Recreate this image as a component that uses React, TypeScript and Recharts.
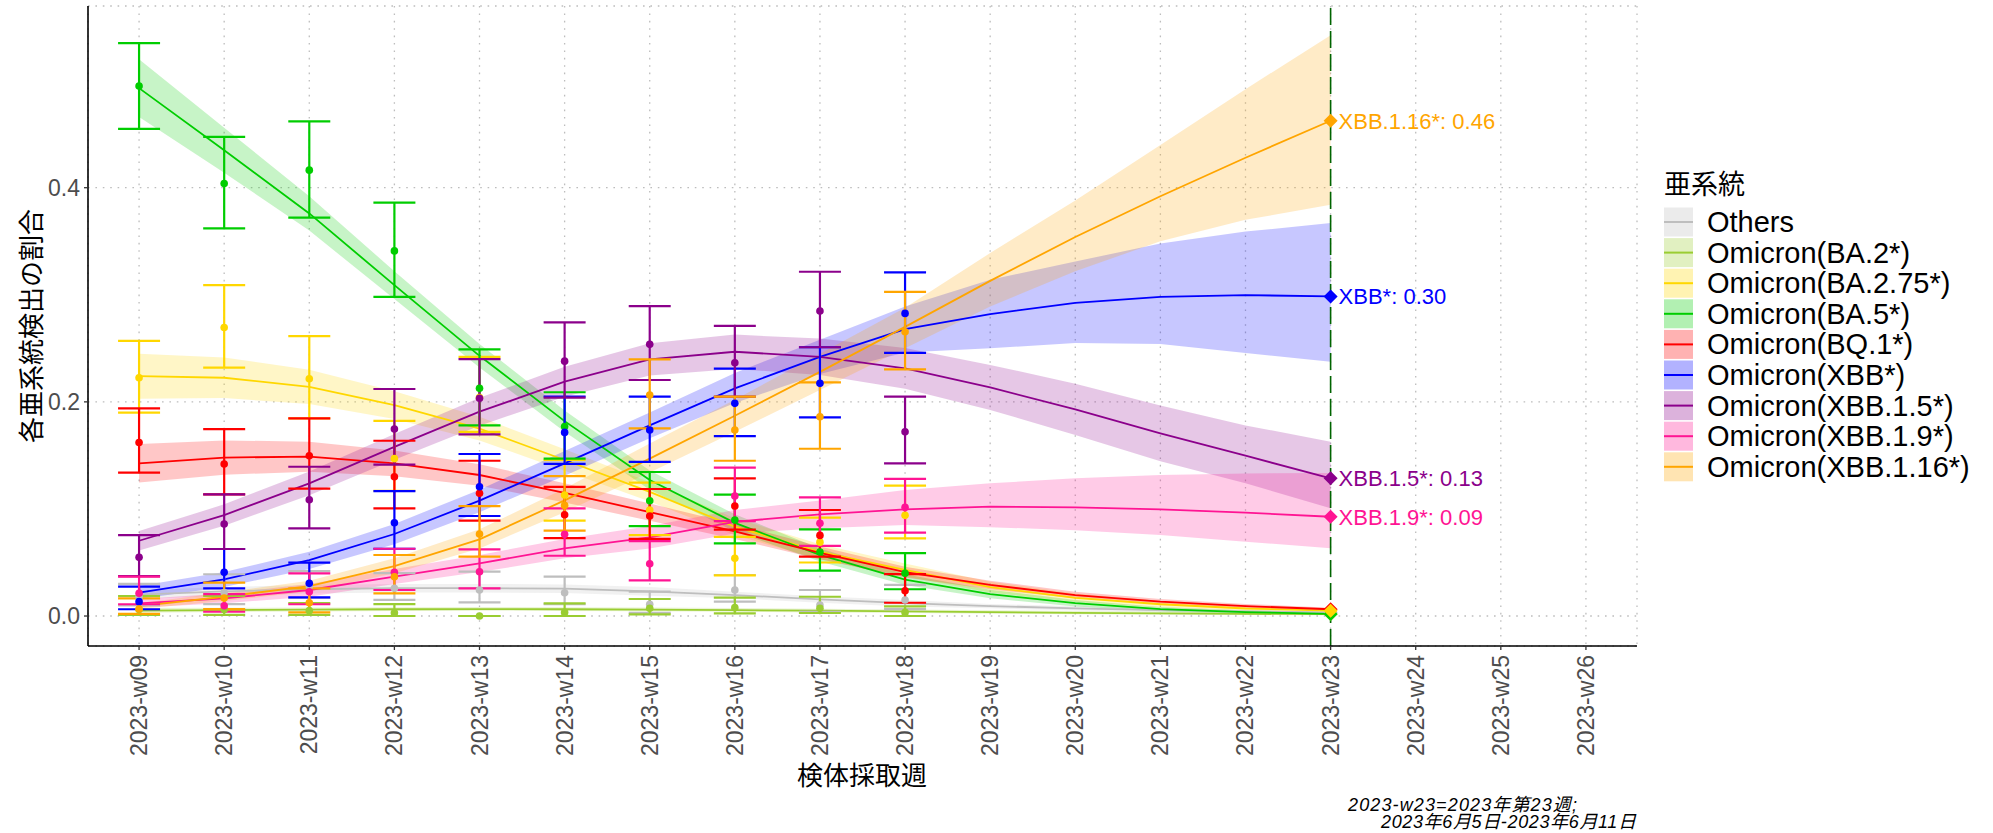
import React from 'react';
import {
  ComposedChart,
  Line,
  Area,
  XAxis,
  YAxis,
  CartesianGrid,
  ErrorBar,
  ReferenceLine,
  ReferenceDot,
} from 'recharts';

// ---------- categories ----------
const fitWeeks = [9, 10, 11, 12, 13, 14, 15, 16, 17, 18, 19, 20, 21, 22, 23];
const obsWeeks = [9, 10, 11, 12, 13, 14, 15, 16, 17, 18];
const xTicks = [9, 10, 11, 12, 13, 14, 15, 16, 17, 18, 19, 20, 21, 22, 23, 24, 25, 26];
const yTicks = [0, 0.2, 0.4];
const latestWeek = 23;

// ---------- series meta ----------
const seriesKeys = ['oth', 'ba2', 'ba275', 'ba5', 'bq1', 'xbb', 'xbb15', 'xbb19', 'xbb116'];
const seriesNames = [
  'Others',
  'Omicron(BA.2*)',
  'Omicron(BA.2.75*)',
  'Omicron(BA.5*)',
  'Omicron(BQ.1*)',
  'Omicron(XBB*)',
  'Omicron(XBB.1.5*)',
  'Omicron(XBB.1.9*)',
  'Omicron(XBB.1.16*)',
];
const seriesColors = ['#BEBEBE', '#9ACD32', '#FFD700', '#00CD00', '#FF0000', '#0000FF', '#8B008B', '#FF1493', '#FFA500'];
const endLabels = ['', '', '', '', '', 'XBB*', 'XBB.1.5*', 'XBB.1.9*', 'XBB.1.16*'];

// ---------- observed proportions (w09..w18) ----------
const othObs = [0.018, 0.022, 0.028, 0.026, 0.0243, 0.0218, 0.011, 0.0243, 0.0103, 0.015];
const othLo = [0.01, 0.0112, 0.017, 0.015, 0.0128, 0.011, 0.003, 0.0134, 0.004, 0.0065];
const othHi = [0.03, 0.039, 0.042, 0.04, 0.0414, 0.0367, 0.0227, 0.0383, 0.0243, 0.029];

const ba2Obs = [0.006, 0.006, 0.005, 0.003, 0.0, 0.0034, 0.0072, 0.0078, 0.0072, 0.0034];
const ba2Lo = [0.001, 0.001, 0.001, 0.0, 0.0, 0.0, 0.0016, 0.0025, 0.0028, 0.0];
const ba2Hi = [0.0187, 0.0187, 0.012, 0.0112, 0.0, 0.0118, 0.0159, 0.0171, 0.018, 0.009];

const ba275Obs = [0.2225, 0.2695, 0.2216, 0.147, 0.204, 0.113, 0.099, 0.0539, 0.069, 0.094];
const ba275Lo = [0.19, 0.232, 0.1846, 0.117, 0.172, 0.089, 0.0756, 0.038, 0.05, 0.0725];
const ba275Hi = [0.257, 0.309, 0.2614, 0.1823, 0.242, 0.1457, 0.1245, 0.074, 0.0918, 0.1217];

const ba5Obs = [0.495, 0.404, 0.4164, 0.341, 0.2126, 0.177, 0.1077, 0.0896, 0.0598, 0.04];
const ba5Lo = [0.455, 0.362, 0.372, 0.298, 0.178, 0.147, 0.084, 0.0679, 0.0423, 0.025];
const ba5Hi = [0.535, 0.4475, 0.462, 0.386, 0.249, 0.209, 0.1345, 0.1133, 0.081, 0.0588];

const bq1Obs = [0.162, 0.142, 0.1497, 0.13, 0.1146, 0.0946, 0.0934, 0.1027, 0.0753, 0.0236];
const bq1Lo = [0.134, 0.1136, 0.119, 0.1005, 0.089, 0.0728, 0.072, 0.0806, 0.0554, 0.0124];
const bq1Hi = [0.194, 0.1746, 0.1846, 0.1637, 0.145, 0.1207, 0.1186, 0.1286, 0.099, 0.0392];

const xbbObs = [0.0134, 0.0408, 0.0305, 0.0871, 0.1207, 0.1715, 0.1737, 0.1986, 0.2173, 0.2826];
const xbbLo = [0.0063, 0.0259, 0.0174, 0.0628, 0.0934, 0.142, 0.144, 0.168, 0.1855, 0.2458];
const xbbHi = [0.0274, 0.0626, 0.0498, 0.1167, 0.1513, 0.205, 0.2048, 0.231, 0.251, 0.321];

const xbb15Obs = [0.0548, 0.0859, 0.1086, 0.1746, 0.2033, 0.238, 0.2537, 0.2365, 0.2848, 0.172];
const xbb15Lo = [0.0373, 0.0626, 0.0819, 0.1413, 0.1697, 0.204, 0.2204, 0.2048, 0.251, 0.1426];
const xbb15Hi = [0.0756, 0.1136, 0.1394, 0.212, 0.24, 0.2742, 0.2894, 0.271, 0.3215, 0.2048];

const xbb19Obs = [0.0212, 0.0096, 0.0227, 0.0408, 0.0414, 0.0763, 0.0488, 0.112, 0.0866, 0.1015];
const xbb19Lo = [0.011, 0.004, 0.011, 0.0243, 0.0259, 0.0563, 0.0333, 0.0887, 0.0656, 0.0778];
const xbb19Hi = [0.0367, 0.0205, 0.0399, 0.0628, 0.0623, 0.1006, 0.07, 0.1385, 0.1108, 0.128];

const xbb116Obs = [0.0065, 0.0168, 0.0124, 0.0367, 0.0766, 0.1033, 0.2063, 0.1737, 0.1861, 0.2655];
const xbb116Lo = [0.002, 0.0065, 0.0034, 0.0212, 0.0554, 0.0797, 0.1752, 0.145, 0.1562, 0.2303];
const xbb116Hi = [0.0165, 0.0311, 0.0259, 0.057, 0.1027, 0.1307, 0.2397, 0.2048, 0.2182, 0.3028];

// ---------- fitted proportions with 95% band (w09..w23) ----------
const othFit = [0.02, 0.023, 0.025, 0.026, 0.026, 0.0255, 0.023, 0.0196, 0.0155, 0.012, 0.0093, 0.0072, 0.0055, 0.0043, 0.0033];
const othFitLo = [0.016, 0.019, 0.021, 0.022, 0.022, 0.0215, 0.019, 0.0166, 0.0125, 0.009, 0.0073, 0.0052, 0.0035, 0.0028, 0.0021];
const othFitHi = [0.024, 0.027, 0.029, 0.03, 0.03, 0.0295, 0.027, 0.0226, 0.0185, 0.015, 0.0113, 0.0092, 0.0075, 0.0058, 0.0045];

const ba2Fit = [0.005, 0.0055, 0.006, 0.0063, 0.0065, 0.0063, 0.006, 0.0055, 0.005, 0.0043, 0.0036, 0.003, 0.0025, 0.002, 0.0017];
const ba2FitLo = [0.003, 0.0037, 0.0043, 0.0047, 0.0049, 0.0047, 0.0044, 0.0039, 0.0034, 0.0028, 0.0022, 0.0017, 0.0013, 0.001, 0.0008];
const ba2FitHi = [0.0075, 0.0077, 0.008, 0.0082, 0.0084, 0.0082, 0.0079, 0.0074, 0.0069, 0.0062, 0.0054, 0.0047, 0.0041, 0.0035, 0.003];

const ba275Fit = [0.224, 0.2225, 0.214, 0.197, 0.175, 0.1457, 0.116, 0.0834, 0.06, 0.043, 0.027, 0.017, 0.011, 0.007, 0.005];
const ba275FitLo = [0.203, 0.2035, 0.198, 0.184, 0.164, 0.1357, 0.107, 0.0754, 0.053, 0.037, 0.022, 0.013, 0.008, 0.005, 0.003];
const ba275FitHi = [0.245, 0.2415, 0.23, 0.21, 0.186, 0.1557, 0.125, 0.0914, 0.067, 0.049, 0.032, 0.021, 0.014, 0.009, 0.007];

const ba5Fit = [0.493, 0.435, 0.376, 0.309, 0.243, 0.182, 0.127, 0.087, 0.057, 0.034, 0.0205, 0.012, 0.0065, 0.0037, 0.002];
const ba5FitLo = [0.466, 0.414, 0.36, 0.296, 0.232, 0.172, 0.118, 0.079, 0.051, 0.029, 0.0165, 0.009, 0.0045, 0.0022, 0.001];
const ba5FitHi = [0.52, 0.456, 0.392, 0.322, 0.254, 0.192, 0.136, 0.095, 0.063, 0.039, 0.0245, 0.015, 0.0085, 0.0052, 0.003];

const bq1Fit = [0.1426, 0.148, 0.1488, 0.1426, 0.1317, 0.115, 0.097, 0.079, 0.059, 0.041, 0.029, 0.0196, 0.0134, 0.0093, 0.0063];
const bq1FitLo = [0.1246, 0.132, 0.1348, 0.1306, 0.1217, 0.106, 0.089, 0.072, 0.053, 0.036, 0.025, 0.0166, 0.0109, 0.0073, 0.0048];
const bq1FitHi = [0.1606, 0.164, 0.1628, 0.1546, 0.1417, 0.124, 0.105, 0.086, 0.065, 0.046, 0.033, 0.0226, 0.0159, 0.0113, 0.0078];

const xbbFit = [0.0218, 0.0342, 0.0523, 0.0766, 0.1077, 0.1426, 0.178, 0.2126, 0.242, 0.268, 0.282, 0.2925, 0.298, 0.2997, 0.2985];
const xbbFitLo = [0.016, 0.027, 0.044, 0.067, 0.097, 0.131, 0.166, 0.199, 0.226, 0.246, 0.25, 0.255, 0.254, 0.2456, 0.2375];
const xbbFitHi = [0.028, 0.041, 0.06, 0.086, 0.118, 0.154, 0.19, 0.227, 0.258, 0.289, 0.314, 0.331, 0.348, 0.359, 0.367];

const xbb15Fit = [0.0703, 0.0943, 0.1239, 0.158, 0.1908, 0.2188, 0.2397, 0.2468, 0.2421, 0.2313, 0.2135, 0.193, 0.1706, 0.1497, 0.1286];
const xbb15FitLo = [0.0613, 0.0843, 0.1129, 0.146, 0.1778, 0.2048, 0.2247, 0.2308, 0.2251, 0.2123, 0.1925, 0.169, 0.1446, 0.124, 0.1006];
const xbb15FitHi = [0.0793, 0.1043, 0.1349, 0.17, 0.2038, 0.2328, 0.2547, 0.2628, 0.2591, 0.2503, 0.2345, 0.217, 0.1966, 0.178, 0.1628];

const xbb19Fit = [0.0118, 0.0165, 0.0243, 0.0367, 0.0492, 0.0632, 0.0735, 0.088, 0.095, 0.0996, 0.1021, 0.1015, 0.0996, 0.0965, 0.0927];
const xbb19FitLo = [0.008, 0.012, 0.018, 0.03, 0.041, 0.054, 0.063, 0.077, 0.082, 0.085, 0.083, 0.08, 0.0756, 0.0694, 0.0632];
const xbb19FitHi = [0.016, 0.021, 0.03, 0.044, 0.057, 0.072, 0.084, 0.099, 0.108, 0.1176, 0.124, 0.1286, 0.1317, 0.1332, 0.1335];

const xbb116Fit = [0.0093, 0.018, 0.028, 0.0467, 0.0716, 0.108, 0.147, 0.187, 0.228, 0.27, 0.313, 0.354, 0.392, 0.428, 0.4625];
const xbb116FitLo = [0.0065, 0.014, 0.023, 0.04, 0.063, 0.097, 0.134, 0.172, 0.211, 0.25, 0.289, 0.322, 0.35, 0.37, 0.384];
const xbb116FitHi = [0.012, 0.022, 0.033, 0.054, 0.081, 0.119, 0.161, 0.202, 0.245, 0.288, 0.339, 0.388, 0.44, 0.492, 0.5425];

// ---------- text ----------
const yTitle = '各亜系統検出の割合';
const xTitle = '検体採取週';
const legendTitle = '亜系統';
const captionLines = ['2023-w23=2023年第23週;', '2023年6月5日-2023年6月11日'];

type S = {
  key: string; name: string; color: string; tag: string;
  obs: number[]; lo: number[]; hi: number[];
  fit: number[]; fitLo: number[]; fitHi: number[];
};

const obsTable = [
  [othObs, othLo, othHi], [ba2Obs, ba2Lo, ba2Hi], [ba275Obs, ba275Lo, ba275Hi], [ba5Obs, ba5Lo, ba5Hi],
  [bq1Obs, bq1Lo, bq1Hi], [xbbObs, xbbLo, xbbHi], [xbb15Obs, xbb15Lo, xbb15Hi], [xbb19Obs, xbb19Lo, xbb19Hi],
  [xbb116Obs, xbb116Lo, xbb116Hi],
];
const fitTable = [
  [othFit, othFitLo, othFitHi], [ba2Fit, ba2FitLo, ba2FitHi], [ba275Fit, ba275FitLo, ba275FitHi], [ba5Fit, ba5FitLo, ba5FitHi],
  [bq1Fit, bq1FitLo, bq1FitHi], [xbbFit, xbbFitLo, xbbFitHi], [xbb15Fit, xbb15FitLo, xbb15FitHi], [xbb19Fit, xbb19FitLo, xbb19FitHi],
  [xbb116Fit, xbb116FitLo, xbb116FitHi],
];

const series: S[] = seriesKeys.map((key, i) => ({
  key, name: seriesNames[i], color: seriesColors[i], tag: endLabels[i],
  obs: obsTable[i][0], lo: obsTable[i][1], hi: obsTable[i][2],
  fit: fitTable[i][0], fitLo: fitTable[i][1], fitHi: fitTable[i][2],
}));

const rows = fitWeeks.map((w, i) => {
  const r: any = { w };
  series.forEach((s) => {
    r[s.key + '_fit'] = s.fit[i];
    r[s.key + '_band'] = [s.fitLo[i], s.fitHi[i]];
    const j = obsWeeks.indexOf(w);
    if (j >= 0) {
      r[s.key + '_obs'] = s.obs[j];
      r[s.key + '_err'] = [s.obs[j] - s.lo[j], s.hi[j] - s.obs[j]];
    }
  });
  return r;
});

const fmtWeek = (v: number) => `2023-w${String(v).padStart(2, '0')}`;
const LATIN = "'Liberation Sans', Arial, 'Noto Sans CJK JP', sans-serif";
const CJK = "'Noto Sans CJK JP', 'Liberation Sans', sans-serif";

const XTick = (props: any) => {
  const { x, y, payload } = props;
  return (
    <text
      x={x}
      y={y}
      transform={`rotate(-90, ${x}, ${y})`}
      textAnchor="end"
      dominantBaseline="central"
      fill="#4D4D4D"
      fontSize={23}
      fontFamily={LATIN}
    >
      {fmtWeek(payload.value)}
    </text>
  );
};

const Diamond = (props: any) => {
  const { cx, cy, fill } = props;
  const r = 7;
  return <path d={`M${cx},${cy - r}L${cx + r},${cy}L${cx},${cy + r}L${cx - r},${cy}Z`} fill={fill} stroke="none" />;
};

// draw order for end diamonds (small ones first, gold on top of the cluster near 0)
const diamondOrder = [0, 1, 3, 4, 2, 5, 6, 7, 8];

export default function App() {
  const W = 1993;
  const H = 833;
  const legendX = 1664;
  const legendRow0 = 222;
  const legendStep = 30.6;
  return (
    <div style={{ position: 'absolute', left: 0, top: 0, width: W, height: H, background: '#fff', fontFamily: LATIN }}>
      <ComposedChart width={W} height={H} data={rows} margin={{ top: 6, right: 356, bottom: 67, left: 0 }}>
        <CartesianGrid stroke="#BDBDBD" strokeWidth={1.3} strokeDasharray="1.6 5.8" />
        <XAxis
          dataKey="w"
          type="number"
          domain={[8.4, 26.6]}
          ticks={xTicks}
          interval={0}
          allowDataOverflow
          height={120}
          tick={<XTick />}
          tickSize={4}
          tickMargin={5}
          axisLine={{ stroke: '#000', strokeWidth: 1.6 }}
          tickLine={{ stroke: '#333', strokeWidth: 1.3 }}
        />
        <XAxis
          xAxisId="top"
          orientation="top"
          type="number"
          domain={[8.4, 26.6]}
          allowDataOverflow
          height={0}
          tick={false}
          tickLine={false}
          axisLine={{ stroke: '#B3B3B3', strokeWidth: 1.3 }}
        />
        <YAxis
          type="number"
          domain={[-0.028, 0.5697]}
          ticks={yTicks}
          allowDataOverflow
          width={88}
          tickFormatter={(v: number) => v.toFixed(1)}
          tick={{ fill: '#4D4D4D', fontSize: 23, fontFamily: LATIN }}
          tickSize={4}
          tickMargin={4}
          axisLine={{ stroke: '#000', strokeWidth: 1.6 }}
          tickLine={{ stroke: '#333', strokeWidth: 1.3 }}
        />
        <YAxis
          yAxisId="right"
          orientation="right"
          type="number"
          domain={[-0.028, 0.5697]}
          allowDataOverflow
          width={0}
          tick={false}
          tickLine={false}
          axisLine={{ stroke: '#B3B3B3', strokeWidth: 1.3 }}
        />

        {series.map((s) => (
          <Area
            key={s.key + '_band'}
            dataKey={s.key + '_band'}
            type="linear"
            stroke="none"
            fill={s.color}
            fillOpacity={0.22}
            isAnimationActive={false}
            activeDot={false}
            legendType="none"
          />
        ))}

        {series.map((s) => (
          <Line
            key={s.key + '_fit'}
            dataKey={s.key + '_fit'}
            type="linear"
            stroke={s.color}
            strokeWidth={1.8}
            dot={false}
            activeDot={false}
            isAnimationActive={false}
            legendType="none"
          />
        ))}

        <ReferenceLine x={latestWeek} stroke="#006400" strokeWidth={1.6} strokeDasharray="17 6" />

        {series.map((s) => (
          <Line
            key={s.key + '_obs'}
            dataKey={s.key + '_obs'}
            type="linear"
            stroke="none"
            strokeWidth={0}
            dot={{ r: 3.8, fill: s.color, stroke: 'none' }}
            activeDot={false}
            isAnimationActive={false}
            legendType="none"
          >
            <ErrorBar dataKey={s.key + '_err'} width={21} stroke={s.color} strokeWidth={2.2} direction="y" />
          </Line>
        ))}

        {diamondOrder.map((i) => {
          const s = series[i];
          const v = s.fit[s.fit.length - 1];
          return (
            <ReferenceDot
              key={s.key + '_end'}
              x={latestWeek}
              y={v}
              r={7}
              fill={s.color}
              stroke="none"
              shape={Diamond}
              label={
                s.tag
                  ? {
                      value: `${s.tag}: ${v.toFixed(2)}`,
                      position: 'right',
                      offset: 1,
                      fill: s.color,
                      fontSize: 22,
                      fontFamily: LATIN,
                    }
                  : undefined
              }
            />
          );
        })}
      </ComposedChart>

      <svg
        width={W}
        height={H}
        style={{ position: 'absolute', left: 0, top: 0, pointerEvents: 'none' }}
      >
        <text
          x={29}
          y={326}
          transform="rotate(-90, 29, 326)"
          textAnchor="middle"
          dominantBaseline="central"
          fontSize={26}
          fontFamily={CJK}
          fill="#000"
        >
          {yTitle}
        </text>
        <text x={862} y={773} textAnchor="middle" dominantBaseline="central" fontSize={26} fontFamily={CJK} fill="#000">
          {xTitle}
        </text>

        <text x={1348} y={811} fontSize={18} fontStyle="italic" fontFamily={LATIN} fill="#000" textLength={229} lengthAdjust="spacing">
          {captionLines[0]}
        </text>
        <text x={1381} y={828} fontSize={18} fontStyle="italic" fontFamily={LATIN} fill="#000" textLength={255} lengthAdjust="spacing">
          {captionLines[1]}
        </text>

        <text x={legendX} y={182} dominantBaseline="central" fontSize={27} fontFamily={CJK} fill="#000">
          {legendTitle}
        </text>
        {series.map((s, i) => {
          const cy = legendRow0 + i * legendStep;
          return (
            <g key={s.key + '_leg'}>
              <rect x={legendX} y={cy - 14.5} width={29} height={29} fill={s.color} fillOpacity={0.3} />
              <line x1={legendX} x2={legendX + 29} y1={cy} y2={cy} stroke={s.color} strokeWidth={2} />
              <text x={1707} y={cy} dominantBaseline="central" fontSize={29} fontFamily={LATIN} fill="#000">
                {s.name}
              </text>
            </g>
          );
        })}
      </svg>
    </div>
  );
}
